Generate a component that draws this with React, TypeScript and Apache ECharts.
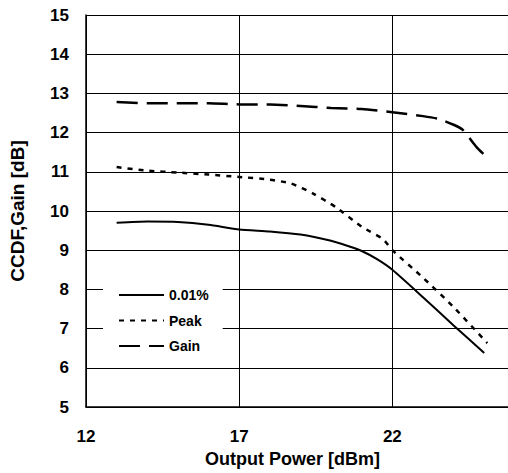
import React, { useEffect, useRef } from "react";
import * as echarts from "echarts";

const seriesNames = ["0.01%", "Peak", "Gain"];

const p01X = [13, 14, 15, 16, 17, 18, 19, 20, 20.5, 21, 21.5, 22, 23, 24, 25];
const p01Y = [9.7, 9.73, 9.72, 9.65, 9.53, 9.48, 9.4, 9.24, 9.12, 8.98, 8.77, 8.5, 7.8, 7.08, 6.38];

const peakX = [13, 14, 15, 16, 17, 18, 18.7, 19.4, 20.15, 21, 21.7, 22, 23, 24, 25.1];
const peakY = [11.12, 11.03, 10.98, 10.93, 10.87, 10.8, 10.7, 10.45, 10.1, 9.6, 9.28, 9.0, 8.3, 7.55, 6.63];

const gainX = [13, 14, 15, 16, 17, 18, 19, 20, 21, 22, 23, 23.5, 24, 24.3, 24.75, 25.07];
const gainY = [12.78, 12.75, 12.75, 12.75, 12.72, 12.72, 12.68, 12.63, 12.6, 12.52, 12.42, 12.35, 12.2, 12.07, 11.63, 11.38];

const xTitle = "Output Power [dBm]";
const yTitle = "CCDF,Gain [dB]";

const pairs = (xs: number[], ys: number[]) => xs.map((x, i) => [x, ys[i]]);

const FONT = "Liberation Sans, Arial, sans-serif";

export default function App() {
  const ref = useRef<HTMLDivElement>(null);
  useEffect(() => {
    if (!ref.current) return;
    const chart = echarts.init(ref.current, undefined, { renderer: "svg" });
    chart.setOption({
      animation: false,
      backgroundColor: "#ffffff",
      grid: { left: 82, top: 15, bottom: 66, right: 14.5, containLabel: false },
      xAxis: {
        type: "value",
        min: 12,
        max: 27,
        interval: 5,
        axisLine: { show: true, lineStyle: { color: "#000", width: 1.5 } },
        axisTick: { show: false },
        splitLine: { show: true, lineStyle: { color: "#000", width: 1 } },
        axisLabel: {
          color: "#000",
          fontFamily: FONT,
          fontWeight: "bold",
          fontSize: 17,
          margin: 21,
          showMaxLabel: false,
        },
      },
      yAxis: {
        type: "value",
        min: 5,
        max: 15,
        interval: 1,
        name: yTitle,
        nameLocation: "middle",
        nameGap: 59,
        nameTextStyle: { color: "#000", fontFamily: FONT, fontWeight: "bold", fontSize: 19 },
        axisLine: { show: true, lineStyle: { color: "#000", width: 1.5 } },
        axisTick: { show: false },
        splitLine: { show: true, lineStyle: { color: "#000", width: 1 } },
        axisLabel: { color: "#000", fontFamily: FONT, fontWeight: "bold", fontSize: 17, margin: 17 },
      },
      graphic: [
        {
          type: "text",
          x: 292.5,
          y: 459,
          style: {
            text: xTitle,
            fill: "#000",
            font: `bold 18px ${FONT}`,
            align: "center",
            verticalAlign: "middle",
          },
        },
      ],
      legend: {
        orient: "vertical",
        left: 103,
        top: 280,
        data: seriesNames,
        backgroundColor: "#ffffff",
        padding: [8, 14, 8, 15],
        itemWidth: 45,
        itemHeight: 14,
        itemGap: 11.5,
        itemStyle: { color: "rgba(0,0,0,0)", borderColor: "rgba(0,0,0,0)", borderWidth: 0, opacity: 0 },
        textStyle: { color: "#000", fontFamily: FONT, fontWeight: "bold", fontSize: 14 },
      },
      series: [
        {
          name: seriesNames[0],
          type: "line",
          data: pairs(p01X, p01Y),
          symbol: "none",
          smooth: 0.2,
          lineStyle: { color: "#000", width: 2, type: "solid" },
          itemStyle: { color: "#000" },
          z: 3,
        },
        {
          name: seriesNames[1],
          type: "line",
          data: pairs(peakX, peakY),
          symbol: "none",
          smooth: 0.2,
          lineStyle: { color: "#000", width: 2.5, type: [5, 6] },
          itemStyle: { color: "#000" },
          z: 3,
        },
        {
          name: seriesNames[2],
          type: "line",
          data: pairs(gainX, gainY),
          symbol: "none",
          smooth: 0.2,
          lineStyle: { color: "#000", width: 2.5, type: [21, 9] },
          itemStyle: { color: "#000" },
          z: 3,
        },
      ],
    });
    return () => chart.dispose();
  }, []);
  return (
    <div style={{ position: "fixed", left: 0, top: 0, width: 508, height: 473, overflow: "hidden" }}>
      <div ref={ref} style={{ width: 560, height: 473 }} />
    </div>
  );
}
